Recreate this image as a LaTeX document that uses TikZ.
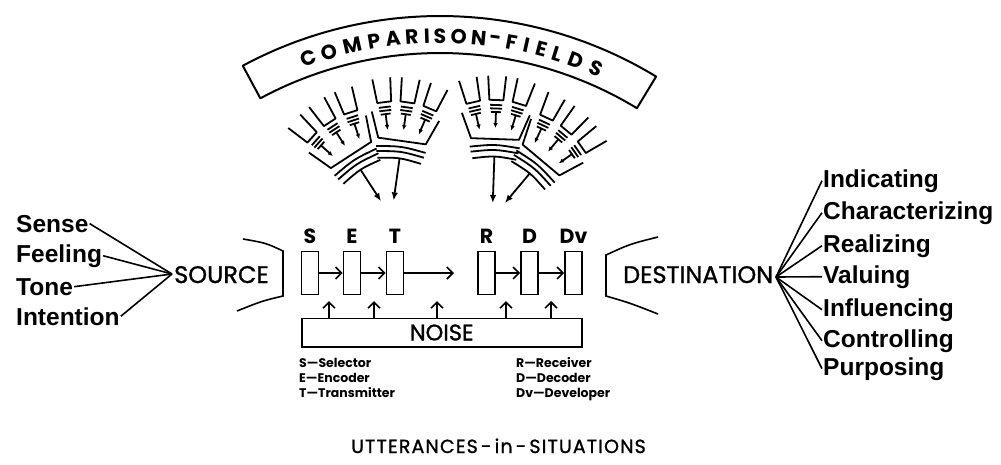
\documentclass[tikz,border=0pt]{standalone}
\usepackage{fontspec}
\setmainfont{Liberation Sans}
\newfontfamily\popfont{Poppins}
\newfontfamily\popmed[FakeBold=1.2]{Poppins}
\newfontfamily\poptitle[FakeBold=1.2,LetterSpace=6]{Poppins}
\usetikzlibrary{arrows.meta}
\newcommand\SmallCup{%
  \draw[cup] (-9,24) -- (-7,0) -- (7,0) -- (9,24);
  \draw[cup] (-6,-5) -- (6,-5);
  \draw[cup] (-6,-8.5) -- (6,-8.5);
  \draw[cup] (-5,-12) -- (5,-12);
  \draw[cup,-{Latex[length=5pt,width=4.5pt]}] (0,-12) -- (0,-28);
}
\newcommand\BigUnit[4]{%
  \begin{scope}[shift={(#1,#2)},rotate=#3]
    \draw[cup] (-34,25) -- (-24,0) -- (24,0) -- (34,25);
    \draw[cup] (-25,-8.5) .. controls (0,-5.2) .. (25,-8.5);
    \draw[cup] (-24,-13.5) .. controls (0,-10.2) .. (24,-13.5);
    \draw[cup] (-22,-20) .. controls (0,-16.7) .. (22,-20);
    \draw[cup,-{Latex[length=8pt,width=6.5pt]}] (0,-17.5) -- (0,-#4);
    \foreach \ph in {15,0,-15}{%
      \begin{scope}[shift={(0,-50)},rotate=\ph,shift={(0,89)}]
        \SmallCup
      \end{scope}}
  \end{scope}}
\begin{document}
\begin{tikzpicture}[x=1pt,y=1pt,
  every node/.style={inner sep=1pt},
  cup/.style={line width=1.8pt,line join=round},
  fan/.style={line width=1.6pt},
  barb/.style={line width=1.6pt,-{Straight Barb[length=6pt,width=12pt,line width=1.6pt]}},
  lbl/.style={font=\fontsize{24.5}{26}\selectfont\bfseries},
  big/.style={font=\popmed\fontsize{24}{26}\selectfont},
  setl/.style={font=\popfont\bfseries\fontsize{20.5}{22}\selectfont,anchor=base},
  leg/.style={font=\popfont\bfseries\fontsize{12.5}{14}\selectfont,anchor=base west},
  blk/.style={draw,line width=1.6pt,minimum width=17pt,minimum height=43pt,inner sep=0pt},
  ban/.style={font=\popfont\bfseries\fontsize{20.5}{24}\selectfont}
]
\fill[white] (0,0) rectangle (1001,-464);
\useasboundingbox (0,0) rectangle (1001,-464);

% banner
\begin{scope}[shift={(440,-432)}]
  \draw[line width=2pt,line join=round] (58.7:416) arc[start angle=58.7,end angle=118.3,radius=416]
     -- (118.3:379) arc[start angle=118.3,end angle=58.7,radius=379] -- cycle;
  \foreach \ch/\ang [count=\i] in {C/109.4,O/106.3,M/102.8,P/99.6,A/96.8,R/94.1,I/91.9,S/90.0,O/87.3,N/84.4,-/82.0,F/79.6,I/77.4,E/75.1,L/72.7,D/69.9,S/66.7}
    \node[ban,rotate=\ang-90] (b\i) at (\ang:396) {\ch};
\end{scope}

% comparison field funnels
\BigUnit{351}{-155}{33}{55}
\BigUnit{402}{-141}{-8}{60}
\BigUnit{495}{-139}{-2}{64}
\BigUnit{541}{-160}{-40}{56}

% left labels
\node[lbl,anchor=base west] (sense) at (15,-232) {Sense};
\node[lbl,anchor=base west] (feel) at (15,-262) {Feeling};
\node[lbl,anchor=base west] (tone) at (15,-295) {Tone};
\node[lbl,anchor=base west] (intent) at (15,-325) {Intention};
\node[big,anchor=base west] (source) at (173,-283) {SOURCE};
\coordinate (spt) at (172,-274);
\foreach \n in {sense,feel,tone,intent} \draw[fan] (\n.east) -- (spt);

% right labels
\node[big,anchor=base west] (dest) at (622,-283) {DESTINATION};
\coordinate (dpt) at (776,-277);
\node[lbl,anchor=base west] (ind) at (822,-187) {Indicating};
\node[lbl,anchor=base west] (cha) at (822,-219) {Characterizing};
\node[lbl,anchor=base west] (rea) at (822,-252) {Realizing};
\node[lbl,anchor=base west] (val) at (822,-283) {Valuing};
\node[lbl,anchor=base west] (inf) at (822,-316) {Influencing};
\node[lbl,anchor=base west] (con) at (822,-347) {Controlling};
\node[lbl,anchor=base west] (pur) at (822,-375) {Purposing};
\foreach \n in {ind,cha,rea,val,inf,con,pur} \draw[fan] (dpt) -- (\n.west);

% brackets
\draw[fan] (243,-239) .. controls (266,-243) .. (283,-251) -- (283,-296) .. controls (262,-301) .. (237,-311);
\draw[fan] (658,-237) .. controls (630,-244) .. (606,-255) -- (606,-296) .. controls (630,-303) .. (658,-314);

% blocks
\node[blk] (bs) at (310,-273) {};
\node[blk] (be) at (352,-273) {};
\node[blk] (bt) at (395,-273) {};
\node[blk] (br) at (486.5,-273) {};
\node[blk] (bd) at (529.5,-273) {};
\node[blk] (bdv) at (573.5,-273) {};
\node[setl] (ls) at (310,-243) {S};
\node[setl] (le) at (352,-243) {E};
\node[setl] (lt) at (395,-243) {T};
\node[setl] (lr) at (486.5,-243) {R};
\node[setl] (ld) at (529.5,-243) {D};
\node[setl] (ldv) at (573.5,-243) {Dv};
\draw[barb] (bs) -- (be);
\draw[barb] (be) -- (bt);
\coordinate (tend) at (454,-273);
\draw[barb] (bt) -- (tend);
\draw[barb] (br) -- (bd);
\draw[barb] (bd) -- (bdv);

% noise
\node[draw,line width=1.6pt,minimum width=280pt,minimum height=28.4pt,inner sep=0pt,
  font=\popmed\fontsize{22.5}{24}\selectfont] (noise) at (441.7,-332.5) {NOISE};
\foreach \x [count=\i] in {329,374,437,506,551}{
  \coordinate (n\i) at (\x,-301);
  \draw[barb] (n\i |- noise.north) -- (n\i);
}

% legend
\node[leg] (ls1) at (298,-367) {S—Selector};
\node[leg] (ls2) at (298,-382) {E—Encoder};
\node[leg] (ls3) at (298,-397) {T—Transmitter};
\node[leg] (lr1) at (515,-367) {R—Receiver};
\node[leg] (lr2) at (515,-382) {D—Decoder};
\node[leg] (lr3) at (515,-397) {Dv—Developer};

% title
\node[font=\poptitle\fontsize{19}{20}\selectfont,anchor=base] (title) at (498.5,-453) {UTTERANCES\,-\,in\,-\,SITUATIONS};
\end{tikzpicture}
\end{document}
